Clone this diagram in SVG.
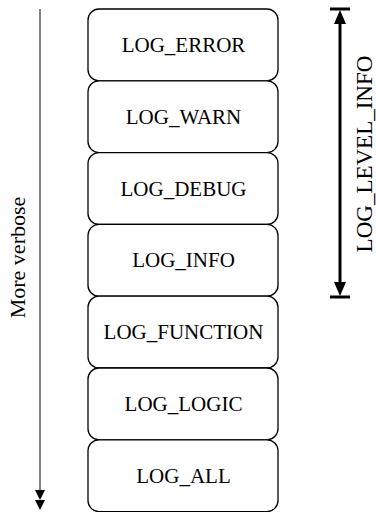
<svg xmlns="http://www.w3.org/2000/svg" width="376" height="512" viewBox="0 0 376 512">
<style>
.box{fill:#fff;stroke:#000;stroke-width:1.3}
.t{font-family:"Liberation Serif","Times New Roman",serif;font-size:21px;fill:#000;text-anchor:middle}
</style>
<rect width="376" height="512" fill="#fff"/>
<g id="levels">
<g id="log_error"><rect class="box" x="88" y="9" width="190" height="71.8" rx="11"/><text class="t" x="183.5" y="52">LOG_ERROR</text></g>
<g id="log_warn"><rect class="box" x="88" y="80.8" width="190" height="71.8" rx="11"/><text class="t" x="183.5" y="123.8">LOG_WARN</text></g>
<g id="log_debug"><rect class="box" x="88" y="152.6" width="190" height="71.8" rx="11"/><text class="t" x="183.5" y="195.6">LOG_DEBUG</text></g>
<g id="log_info"><rect class="box" x="88" y="224.4" width="190" height="71.8" rx="11"/><text class="t" x="183.5" y="267.4">LOG_INFO</text></g>
<g id="log_function"><rect class="box" x="88" y="296.2" width="190" height="71.8" rx="11"/><text class="t" x="183.5" y="339.2">LOG_FUNCTION</text></g>
<g id="log_logic"><rect class="box" x="88" y="368" width="190" height="71.8" rx="11"/><text class="t" x="183.5" y="411">LOG_LOGIC</text></g>
<g id="log_all"><rect class="box" x="88" y="439.8" width="190" height="71.8" rx="11"/><text class="t" x="183.5" y="482.8">LOG_ALL</text></g>
</g>
<g id="connectors">
<line x1="40" y1="9" x2="40" y2="496" stroke="#333" stroke-width="1.2"/>
<polygon points="35,490 45,490 40,500" fill="#000"/>
<polygon points="35,500 45,500 40,510" fill="#000"/>
<line x1="340" y1="16" x2="340" y2="290" stroke="#000" stroke-width="3"/>
<line x1="330" y1="9" x2="350" y2="9" stroke="#000" stroke-width="3"/>
<line x1="330" y1="297" x2="350" y2="297" stroke="#000" stroke-width="3"/>
<polygon points="334,24 346,24 340,10" fill="#000"/>
<polygon points="334,282 346,282 340,296" fill="#000"/>
</g>
<g id="labels">
<text class="t" style="font-size:22px" transform="translate(25,257.5) rotate(-90)">More verbose</text>
<text class="t" style="font-size:23px" transform="translate(371.5,154) rotate(-90)">LOG_LEVEL_INFO</text>
</g>
</svg>
